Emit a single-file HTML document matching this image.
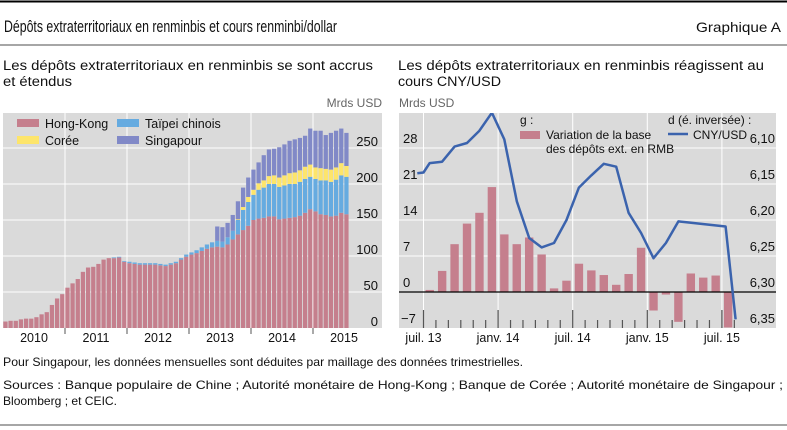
<!DOCTYPE html>
<html><head><meta charset="utf-8"><style>
body{margin:0;background:#fff;}
svg{display:block;font-family:"Liberation Sans",sans-serif;}
</style></head><body>
<svg id="c" width="787" height="430" viewBox="0 0 787 430" xmlns="http://www.w3.org/2000/svg">
<line x1="0" y1="1.5" x2="787" y2="1.5" stroke="#000" stroke-width="2"/>
<text x="4" y="32" font-size="17" textLength="333" lengthAdjust="spacingAndGlyphs" fill="#111">Dépôts extraterritoriaux en renminbis et cours renminbi/dollar</text>
<text x="781" y="32" font-size="14" text-anchor="end" textLength="85" lengthAdjust="spacingAndGlyphs" fill="#111">Graphique A</text>
<line x1="0" y1="45" x2="787" y2="45" stroke="#888" stroke-width="1.5"/>
<text x="3" y="70" font-size="13.5" textLength="370" lengthAdjust="spacingAndGlyphs" fill="#111">Les dépôts extraterritoriaux en renminbis se sont accrus</text>
<text x="3" y="86" font-size="13.5" textLength="69" lengthAdjust="spacingAndGlyphs" fill="#111">et étendus</text>
<text x="398" y="70" font-size="13.5" textLength="366" lengthAdjust="spacingAndGlyphs" fill="#111">Les dépôts extraterritoriaux en renminbis réagissent au</text>
<text x="398" y="86" font-size="13.5" textLength="103" lengthAdjust="spacingAndGlyphs" fill="#111">cours CNY/USD</text>
<g id="left"></g>
<g id="right"></g>
<text x="3" y="366" font-size="12" textLength="520" lengthAdjust="spacingAndGlyphs" fill="#111">Pour Singapour, les données mensuelles sont déduites par maillage des données trimestrielles.</text>
<text x="3" y="389" font-size="12" textLength="780" lengthAdjust="spacingAndGlyphs" fill="#111">Sources : Banque populaire de Chine ; Autorité monétaire de Hong-Kong ; Banque de Corée ; Autorité monétaire de Singapour ;</text>
<text x="3" y="405" font-size="12" textLength="114" lengthAdjust="spacingAndGlyphs" fill="#111">Bloomberg ; et CEIC.</text>
<line x1="0" y1="425" x2="787" y2="425" stroke="#888" stroke-width="1.5"/>
</svg>
<script>
// ---- Left chart data (monthly Jan 2010 - Jul 2015, Mrds USD)
const hkVals=[9,10,10,12,13,13,15,19,22,32,41,47,
 56,62,68,78,84,85,89,95,97,97,98,92,
 90,89,88,88,88,88,87,86,88,90,95,99,
 102,104,107,110,112,113,112,116,123,130,136,142,
 150,152,153,155,155,151,152,153,154,156,160,165,
 162,158,157,155,156,160,158];
const twVals=[0,0,0,0,0,0,0,0,0,0,0,0,
 0,0,0,0,0,0,0,0,0,1,1,1,
 2,2,2,2,2,2,2,2,2,2,2,3,
 3,4,5,6,7,8,8,10,12,20,28,33,
 35,40,42,45,45,45,46,47,46,47,47,45,
 45,47,48,48,50,52,52];
const krVals=[0,0,0,0,0,0,0,0,0,0,0,0,
 0,0,0,0,0,0,0,0,0,0,0,0,
 0,0,0,0,0,0,0,0,0,0,0,0,
 0,0,0,0,0,0,0,0,0,1,4,7,
 7,9,10,11,12,13,14,15,16,16,17,17,
 16,17,16,17,17,17,15];
const sgVals=[0,0,0,0,0,0,0,0,0,0,0,0,
 0,0,0,0,0,0,0,0,0,0,0,0,
 0,0,0,0,0,0,0,0,0,0,0,0,
 0,0,0,0,0,20,20,20,22,25,27,27,
 28,29,35,37,37,42,43,45,46,45,43,50,
 51,52,47,51,51,48,46];
const leftTicks=[0,50,100,150,200,250];
const yearLabels=["2010","2011","2012","2013","2014","2015"];

// ---- Right chart data (monthly Jul 2013 - Jul 2015)
const chgVals=[0.4,4.1,9.3,13.3,15.4,20.4,11.2,9.3,10.6,7.3,0.7,2.2,5.5,4.2,3.3,1.4,3.5,8.6,-3.6,-0.5,-5.8,3.6,2.8,3.2,-6.9];
const fxMonths=[-0.5,0,0.5,1.5,2.5,3.5,4.5,5.5,6.5,7.5,8.5,9.5,10.5,11.5,12.5,13.5,14.5,15.5,16.5,17.5,18.5,19.5,20.5,24.3,25.1];
const fxVals=[6.135,6.134,6.121,6.119,6.098,6.093,6.076,6.051,6.088,6.174,6.225,6.238,6.232,6.2,6.155,6.138,6.122,6.126,6.19,6.218,6.253,6.232,6.202,6.209,6.338];
const rightLeftTicks=[-7,0,7,14,21,28];
const rightRightTicks=[6.10,6.15,6.20,6.25,6.30,6.35];
const monthLabels=["juil. 13","janv. 14","juil. 14","janv. 15","juil. 15"];

const NS="http://www.w3.org/2000/svg";
function mk(parent,tag,attrs,text){const e=document.createElementNS(NS,tag);for(const k in attrs)e.setAttribute(k,attrs[k]);if(text!==undefined)e.textContent=text;parent.appendChild(e);return e;}

// ===== LEFT =====
const L=document.getElementById('left');
const lx0=3,lx1=382,ly0=113,ly1=328;
const monthW=62/12;
const yL=v=>ly1-v*0.72;
const xL=i=>lx0+i*monthW;
let bg=mk(L,'rect',{x:lx0,y:ly0,width:lx1-lx0,height:ly1-ly0,fill:'#dadada'});

leftTicks.forEach(t=>{
 if(t>0){let g=mk(L,'line',{x1:lx0,x2:lx1,y1:yL(t),y2:yL(t),stroke:'#fff','stroke-width':1});
 }
 let tx=mk(L,'text',{x:378,y:yL(t)-2,'font-size':13,'text-anchor':'end',fill:'#111'},String(t));
 
});
for(let k=1;k<6;k++){let g=mk(L,'line',{x1:xL(k*12),x2:xL(k*12),y1:ly0,y2:ly1,stroke:'#fff','stroke-width':1});
 }
const series=[[hkVals,'#c57f8d','bar-hong-kong'],[twVals,'#66abe0','bar-taipei'],[krVals,'#fde56b','bar-coree'],[sgVals,'#8189c7','bar-singapour']];
for(let i=0;i<hkVals.length;i++){
 let acc=0;
 series.forEach(([arr,col,nm])=>{const v=arr[i];if(v<=0)return;
  let r=mk(L,'rect',{x:xL(i)+0.3,y:yL(acc+v),width:monthW-0.9,height:v*0.72,fill:col});
  
  acc+=v;});
}
let u=mk(L,'text',{x:382,y:107,'font-size':12,'text-anchor':'end',fill:'#666'},'Mrds USD');

yearLabels.forEach((s,k)=>{
 let t=mk(L,'text',{x:xL(k*12+6),y:342,'font-size':12.5,'text-anchor':'middle',fill:'#111'},s);
 
 if(k>0){let tk=mk(L,'line',{x1:xL(k*12),x2:xL(k*12),y1:ly1,y2:ly1+6,stroke:'#555'});
 }
});
const legL=[['Hong-Kong','#c57f8d',17,119],['Taïpei chinois','#66abe0',117,119],['Corée','#fde56b',17,136],['Singapour','#8189c7',117,136]];
legL.forEach(([s,c,x,y])=>{
 let r=mk(L,'rect',{x:x,y:y,width:22,height:8,fill:c});
 
 let t=mk(L,'text',{x:x+28,y:y+9,'font-size':12.5,fill:'#111'},s);
 
});

// ===== RIGHT =====
const R=document.getElementById('right');
const rx0=399,rx1=776,ry0=113,ry1=328;
const mW=74.6/6;
const xR=m=>423.5+m*mW;
const yRL=v=>292-v*36/7;
const yRR=v=>148+(v-6.10)*720;
let bg2=mk(R,'rect',{x:rx0,y:ry0,width:rx1-rx0,height:ry1-ry0,fill:'#dadada'});

rightLeftTicks.forEach(t=>{
 if(t!==-7&&t!==0){let g=mk(R,'line',{x1:rx0,x2:rx1,y1:yRL(t),y2:yRL(t),stroke:'#fff'});
 }
 let tx=mk(R,'text',{x:t<0?401:403,y:yRL(t)-5,'font-size':13,fill:'#111'},t<0?'\u2212'+Math.abs(t):String(t));
 
});
rightRightTicks.forEach(t=>{
 let tx=mk(R,'text',{x:775,y:yRR(t)-5,'font-size':13,'text-anchor':'end',fill:'#111'},t.toFixed(2).replace('.',','));
 
});
for(let k=0;k<5;k++){let g=mk(R,'line',{x1:xR(k*6),x2:xR(k*6),y1:ry0,y2:ry1,stroke:'#fff'});
 }
chgVals.forEach((v,i)=>{
 const y=v>=0?yRL(v):yRL(0);
 let r=mk(R,'rect',{x:xR(i+0.5)-4.2,y:y,width:8.4,height:Math.abs(v)*36/7,fill:'#c57f8d'});
 
});
let z=mk(R,'line',{x1:rx0,x2:rx1,y1:yRL(0),y2:yRL(0),stroke:'#000','stroke-width':1.2});

for(let m=0;m<=25;m++){const maj=m%6===0;
 let tk=mk(R,'line',{x1:xR(m),x2:xR(m),y1:ry1,y2:ry1-(maj?18:8),stroke:'#555','stroke-width':1.2});
 }
monthLabels.forEach((s,k)=>{
 let t=mk(R,'text',{x:xR(k*6),y:342,'font-size':12.5,'text-anchor':'middle',fill:'#111'},s);
 
});
const clip=mk(R,'clipPath',{id:'rc'});mk(clip,'rect',{x:rx0,y:ry0,width:rx1-rx0,height:ry1-ry0});
let pts=fxMonths.map((m,i)=>xR(m).toFixed(1)+','+yRR(fxVals[i]).toFixed(1)).join(' ');
let pl=mk(R,'polyline',{points:pts,fill:'none',stroke:'#3b63ad','stroke-width':2.5,'stroke-linejoin':'round','clip-path':'url(#rc)'});

let u2=mk(R,'text',{x:399,y:107,'font-size':12,fill:'#666'},'Mrds USD');

let g1=mk(R,'text',{x:520,y:124,'font-size':12,fill:'#111'},'g :');

let sw=mk(R,'rect',{x:520,y:131,width:20,height:8,fill:'#c57f8d'});

let t1=mk(R,'text',{x:546,y:139,'font-size':12,fill:'#111'},'Variation de la base');

let t2=mk(R,'text',{x:546,y:153,'font-size':12,fill:'#111'},'des dépôts ext. en RMB');

let d1=mk(R,'text',{x:668,y:124,'font-size':12,fill:'#111'},'d (é. inversée) :');

let ll=mk(R,'line',{x1:668,x2:688,y1:134,y2:134,stroke:'#3b63ad','stroke-width':2.5});

let d2=mk(R,'text',{x:693,y:139,'font-size':12,fill:'#111'},'CNY/USD');

</script>
</body></html>
